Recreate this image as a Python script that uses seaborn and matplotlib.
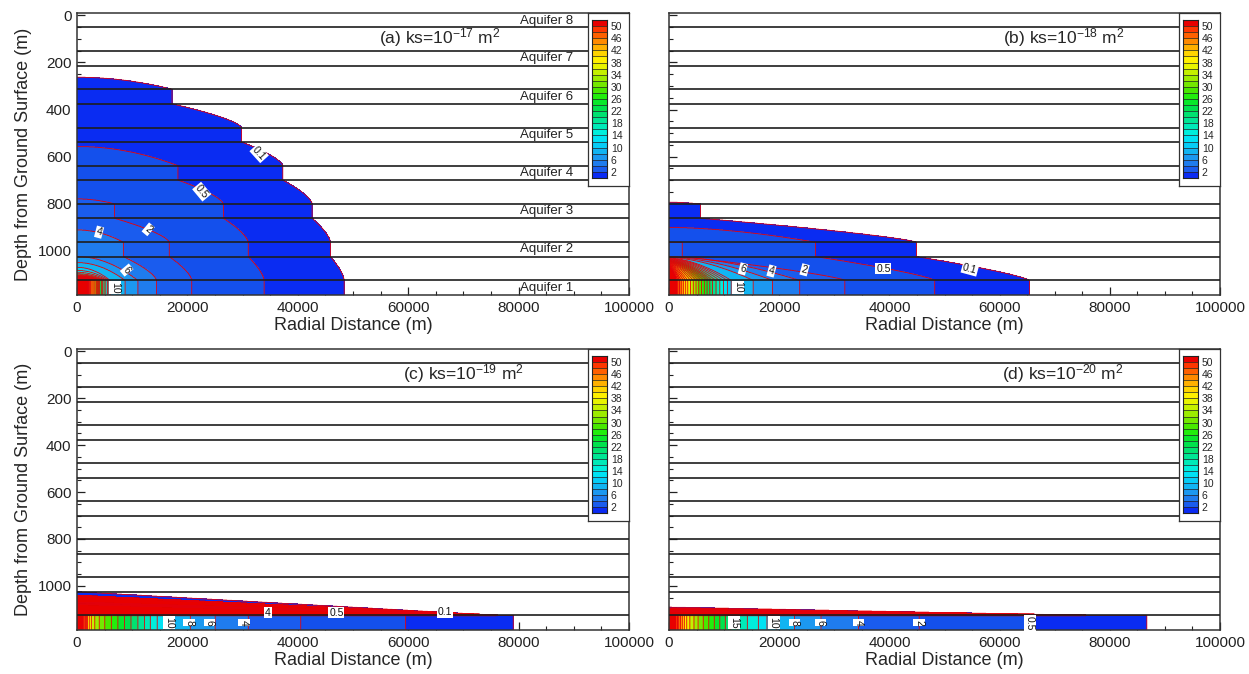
import numpy as np
import matplotlib
matplotlib.use("Agg")
import matplotlib.pyplot as plt
from matplotlib.ticker import MultipleLocator, FixedLocator
from matplotlib.colors import ListedColormap
import seaborn as sns

# ------------------------------------------------------------------ data
LEVELS = [0.1, 0.5, 2, 4, 6, 8, 10, 12, 14, 16, 18, 20, 22, 24, 26, 28, 30,
          32, 34, 36, 38, 40, 42, 44, 46, 48, 50]
CBAR_BOUNDS = [0, 2, 4, 6, 8, 10, 12, 14, 16, 18, 20, 22, 24, 26, 28, 30, 32,
               34, 36, 38, 40, 42, 44, 46, 48, 50, 52]
CBAR_TICKS = [2, 6, 10, 14, 18, 22, 26, 30, 34, 38, 42, 46, 50]

AQUIFER_NAMES = ["Aquifer 1", "Aquifer 2", "Aquifer 3", "Aquifer 4",
                 "Aquifer 5", "Aquifer 6", "Aquifer 7", "Aquifer 8"]
AQUIFER_TOP = [1126, 964, 801, 639, 477, 314, 152, 0]      # m, aquifer 1..8
AQUIFER_BOT = [1188, 1025, 862, 700, 538, 376, 214, 49]

PANEL_TITLES = ["(a) ks=10$^{-17}$ m$^{2}$", "(b) ks=10$^{-18}$ m$^{2}$",
                "(c) ks=10$^{-19}$ m$^{2}$", "(d) ks=10$^{-20}$ m$^{2}$"]

# radius (km) at which each LEVEL is reached inside an aquifer (aquifer 1 = injection layer)
A_AQ1 = [48.4, 33.9, 20.8, 14.4, 11.0, 8.7, 6.0, 5.8, 5.5, 5.2, 4.9, 4.6, 4.4, 4.1,
         3.9, 3.7, 3.5, 3.3, 3.1, 2.9, 2.7, 2.55, 2.4, 2.25, 2.1, 2.0, 1.9]
A_AQ2 = [45.9, 31.0, 16.7, 8.4]
A_AQ3 = [42.6, 26.5, 6.8]
A_AQ4 = [37.3, 18.3]
A_AQ5 = [29.8]
A_AQ6 = [17.2]
# fraction of the overlying aquitard where a level first appears at r = 0
A_START = [0.49, 0.19, 0.79, 0.485, 0.0, 0.25, 0.45, 0.58, 0.66, 0.72, 0.76, 0.79,
           0.81, 0.83, 0.845, 0.86, 0.87, 0.88, 0.89, 0.90, 0.91, 0.92, 0.93, 0.94,
           0.95, 0.96, 0.97]

B_AQ1 = [65.4, 48.2, 31.9, 23.7, 18.8, 15.3, 11.3, 10.6, 9.9, 9.2, 8.5, 7.9, 7.4,
         6.9, 6.4, 5.9, 5.4, 4.9, 4.4, 3.9, 3.4, 3.0, 2.6, 2.2, 1.9, 1.6, 1.3]
B_AQ2 = [44.9, 26.6, 2.4]
B_AQ3 = [5.7]
B_START = [0.93, 0.38, 1.0, 0.0, 0.02, 0.04, 0.06, 0.08, 0.10, 0.12, 0.14, 0.16,
           0.18, 0.20, 0.22, 0.24, 0.26, 0.28, 0.30, 0.32, 0.34, 0.36, 0.38, 0.40,
           0.42, 0.44, 0.46]

C_AQ1 = [79.0, 59.5, 40.5, 31.0, 25.0, 20.5, 17.0, 15.8, 14.5, 13.3, 12.2, 11.0,
         9.8, 8.6, 7.4, 6.2, 5.0, 4.0, 3.2, 2.6, 2.2, 1.9, 1.7, 1.5, 1.3, 1.1, 0.9]
C_WEDGE = [0.0, 76.5]      # start fraction in aquitard at r=0, radius (km) at its base

D_AQ1 = [86.7, 65.4, 45.4, 34.4, 27.6, 22.8, 19.5, 17.8, 16.2, 14.2, 12.4, 11.2,
         10.2, 9.2, 8.2, 7.2, 6.2, 5.3, 4.5, 3.8, 3.2, 2.8, 2.4, 2.1, 1.8, 1.5, 1.2]
D_WEDGE = [0.65, 76.5]

NO_START = [1.0] * 27

# contour labels: text, radius (km), depth (m), rotation
A_LABELS = [("0.1", 33.0, 586, -48), ("0.5", 22.6, 749, -50), ("2", 12.9, 909, -40),
            ("4", 4.0, 921, -15), ("6", 9.0, 1082, -50), ("10", 6.9, 1157, 270)]
B_LABELS = [("10", 12.5, 1155, 270), ("6", 13.4, 1077, -15), ("4", 18.6, 1086, -15),
            ("2", 24.6, 1081, -15), ("0.5", 38.9, 1076, 0), ("0.1", 54.6, 1077, -15)]
C_LABELS = [("4", 34.6, 1114, 0), ("0.5", 47.0, 1114, 0), ("0.1", 66.6, 1112, 0),
            ("10", 16.7, 1157, 270), ("8", 20.3, 1157, 270), ("6", 24.0, 1157, 270),
            ("4", 30.2, 1157, 270)]
D_LABELS = [("15", 11.8, 1157, 270), ("10", 19.0, 1157, 270), ("8", 22.8, 1157, 270),
            ("6", 27.5, 1157, 270), ("4", 34.4, 1157, 270), ("2", 45.4, 1157, 270),
            ("0.5", 65.5, 1157, 270)]

# ------------------------------------------------------------------ style
sns.set_theme(style="ticks")
plt.rcParams["font.family"] = ["Liberation Sans", "DejaVu Sans"]
plt.rcParams["mathtext.fontset"] = "custom"
plt.rcParams["mathtext.rm"] = "Liberation Sans"
plt.rcParams["mathtext.it"] = "Liberation Sans:italic"
plt.rcParams["mathtext.bf"] = "Liberation Sans:bold"
plt.rcParams["axes.edgecolor"] = "#333333"

CB_COLORS = ['#0b2bf3', '#1a5cee', '#1f7cee', '#1c98f0', '#12b4f2', '#06ccf6',
             '#00e2f4', '#00eedc', '#00eab8', '#00e694', '#00e270', '#00e24c',
             '#08e82a', '#22ee0c', '#48e800', '#74e800', '#9cec00', '#c4f000',
             '#e8f400', '#fff000', '#ffd400', '#ffb000', '#ff8a00', '#ff6000',
             '#ff3600', '#e80000']
FIELD_COLORS = ['#0a2cf2', '#1450ec'] + CB_COLORS[1:]
LINE_RED = '#e3000b'

DEPTH_TOP, DEPTH_MAX, R_MAX = -10, 1188, 100000
r_km = np.linspace(0, 100, 1601)
z_m = np.linspace(DEPTH_TOP, DEPTH_MAX, 1000)


def level_limits(aq_lists, starts, k_between, m_start):
    nL = len(LEVELS)
    R = np.zeros((nL, 8))
    for a, lst in enumerate(aq_lists):
        for li, v in enumerate(lst):
            R[li, a] = v
    B = np.full((nL, z_m.size), -1.0)
    for li in range(nL):
        for a in range(8):
            rows = (z_m >= AQUIFER_TOP[a]) & (z_m <= AQUIFER_BOT[a])
            if R[li, a] > 0:
                B[li, rows] = R[li, a]
        for a in range(7):
            zt, zb = AQUIFER_BOT[a + 1], AQUIFER_TOP[a]
            rows = (z_m > zt) & (z_m < zb)
            s = (z_m[rows] - zt) / (zb - zt)
            Rl, Ru = R[li, a], R[li, a + 1]
            if Rl > 0 and Ru > 0:
                B[li, rows] = Ru + (Rl - Ru) * (1 - (1 - s) ** k_between)
            elif Rl > 0 and starts[li] < 1:
                s0 = starts[li]
                frac = (s - s0) / (1 - s0)
                B[li, rows] = np.where(frac > 0, Rl * np.clip(frac, 0, None) ** (1.0 / m_start), -1.0)
    return B


def level_index(aq_lists, starts, k_between, m_start, wedge=None):
    B = level_limits(aq_lists, starts, k_between, m_start)
    idx = ((r_km[None, None, :] <= B[:, :, None]) & (B[:, :, None] > 0)).sum(0)
    if wedge is not None:
        s0w, Rw = wedge
        zt, zb = AQUIFER_BOT[1], AQUIFER_TOP[0]
        rows = (z_m > zt) & (z_m < zb)
        s = (z_m - zt) / (zb - zt)
        RR = r_km[None, :]

        def inside(f):
            rr = Rw * ((s - f) / (1 - f) - s0w) / (1 - s0w)
            return rows[:, None] & (RR <= rr[:, None]) & (rr[:, None] > 0)

        in_edge = inside(0.0)
        in_core = inside(0.16)
        streak_a = inside(0.45)
        streak_b = inside(0.52)
        idx = np.where(in_edge, 1, idx)
        idx = np.where(in_core, len(LEVELS), idx)
        idx = np.where(streak_a & ~streak_b, 1, idx)
    return idx


PANELS = [
    dict(aq=[A_AQ1, A_AQ2, A_AQ3, A_AQ4, A_AQ5, A_AQ6, [], []], start=A_START,
         k=1.5, m=2.0, wedge=None, labels=A_LABELS, title_x=0.548),
    dict(aq=[B_AQ1, B_AQ2, B_AQ3, [], [], [], [], []], start=B_START,
         k=1.3, m=1.7, wedge=None, labels=B_LABELS, title_x=0.606),
    dict(aq=[C_AQ1, [], [], [], [], [], [], []], start=NO_START,
         k=1.3, m=1.0, wedge=C_WEDGE, labels=C_LABELS, title_x=0.59),
    dict(aq=[D_AQ1, [], [], [], [], [], [], []], start=NO_START,
         k=1.3, m=1.0, wedge=D_WEDGE, labels=D_LABELS, title_x=0.604),
]

fig = plt.figure(figsize=(12.49, 6.74), dpi=100)
W, H = 1249.0, 674.0
rects = [(77, 13, 629, 295), (669, 13, 1220, 295), (77, 349, 629, 630), (669, 349, 1220, 630)]

nL = len(LEVELS)
for p, (spec, (x0, y0, x1, y1)) in enumerate(zip(PANELS, rects)):
    ax = fig.add_axes([x0 / W, 1 - y1 / H, (x1 - x0) / W, (y1 - y0) / H])
    ax.set_facecolor("white")
    idx = level_index(spec["aq"], spec["start"], spec["k"], spec["m"], spec["wedge"])
    ax.contourf(r_km * 1000, z_m, idx, levels=np.arange(0.5, nL + 1, 1.0),
                colors=FIELD_COLORS, zorder=1)
    ax.contour(r_km * 1000, z_m, idx, levels=np.arange(0.5, nL, 1.0),
               colors=LINE_RED, linewidths=0.6, zorder=2)

    for a in range(8):
        if a < 7:
            ax.axhline(AQUIFER_TOP[a], color="#1e1e1e", lw=1.2, zorder=3)
        if a > 0:
            ax.axhline(AQUIFER_BOT[a], color="#1e1e1e", lw=1.2, zorder=3)

    if p == 0:
        for a in range(8):
            ax.text(85000, (AQUIFER_TOP[a] + AQUIFER_BOT[a]) / 2, AQUIFER_NAMES[a],
                    ha="center", va="center", fontsize=9.5, color="#222222", zorder=4)

    for txt, rk, dep, rot in spec["labels"]:
        ax.text(rk * 1000, dep, txt, ha="center", va="center", fontsize=7.5,
                rotation=rot, zorder=4, color="#111111",
                bbox=dict(boxstyle="square,pad=0.08", fc="white", ec="none"))

    ax.text(spec["title_x"], 0.912, PANEL_TITLES[p], transform=ax.transAxes,
            ha="left", va="center", fontsize=12.5, zorder=4)

    ax.set_xlim(0, R_MAX)
    ax.set_ylim(DEPTH_MAX, DEPTH_TOP)
    ax.xaxis.set_major_locator(FixedLocator([0, 20000, 40000, 60000, 80000, 100000]))
    ax.xaxis.set_minor_locator(MultipleLocator(5000))
    ax.yaxis.set_major_locator(FixedLocator([0, 200, 400, 600, 800, 1000]))
    ax.yaxis.set_minor_locator(MultipleLocator(50))
    ax.tick_params(which="major", direction="in", length=6, width=0.9, labelsize=11,
                   top=False, right=False, colors="#222222", pad=4)
    ax.tick_params(which="minor", direction="in", length=3, width=0.8,
                   top=False, right=False, colors="#222222")
    ax.set_xlabel("Radial Distance (m)", fontsize=13, labelpad=2)
    if p in (0, 2):
        ax.set_ylabel("Depth from Ground Surface (m)", fontsize=13, labelpad=4)
    else:
        ax.set_yticklabels([])
    for sp in ax.spines.values():
        sp.set_linewidth(1.1)
        sp.set_visible(True)

    # legend box with colour bar
    box = ax.inset_axes([0.926, 0.3865, 0.074, 0.6135])
    box.set_zorder(6)
    box.set_facecolor("white")
    box.set_xticks([])
    box.set_yticks([])
    for sp in box.spines.values():
        sp.set_linewidth(0.9)
        sp.set_color("#333333")
    cax = ax.inset_axes([0.9324, 0.415, 0.0272, 0.56])
    cax.set_zorder(7)
    cax.pcolormesh([0, 1], CBAR_BOUNDS, np.arange(len(CB_COLORS)).reshape(-1, 1),
                   cmap=ListedColormap(CB_COLORS), vmin=-0.5, vmax=len(CB_COLORS) - 0.5)
    for b in CBAR_BOUNDS[1:-1]:
        cax.axhline(b, color="#222222", lw=0.5)
    cax.set_ylim(CBAR_BOUNDS[0], CBAR_BOUNDS[-1])
    cax.set_xlim(0, 1)
    cax.set_xticks([])
    cax.yaxis.tick_right()
    cax.set_yticks(CBAR_TICKS)
    cax.tick_params(axis="y", length=0, labelsize=7.5, pad=3)
    for sp in cax.spines.values():
        sp.set_linewidth(0.8)
        sp.set_color("#222222")

fig.savefig("out.png", dpi=100)
